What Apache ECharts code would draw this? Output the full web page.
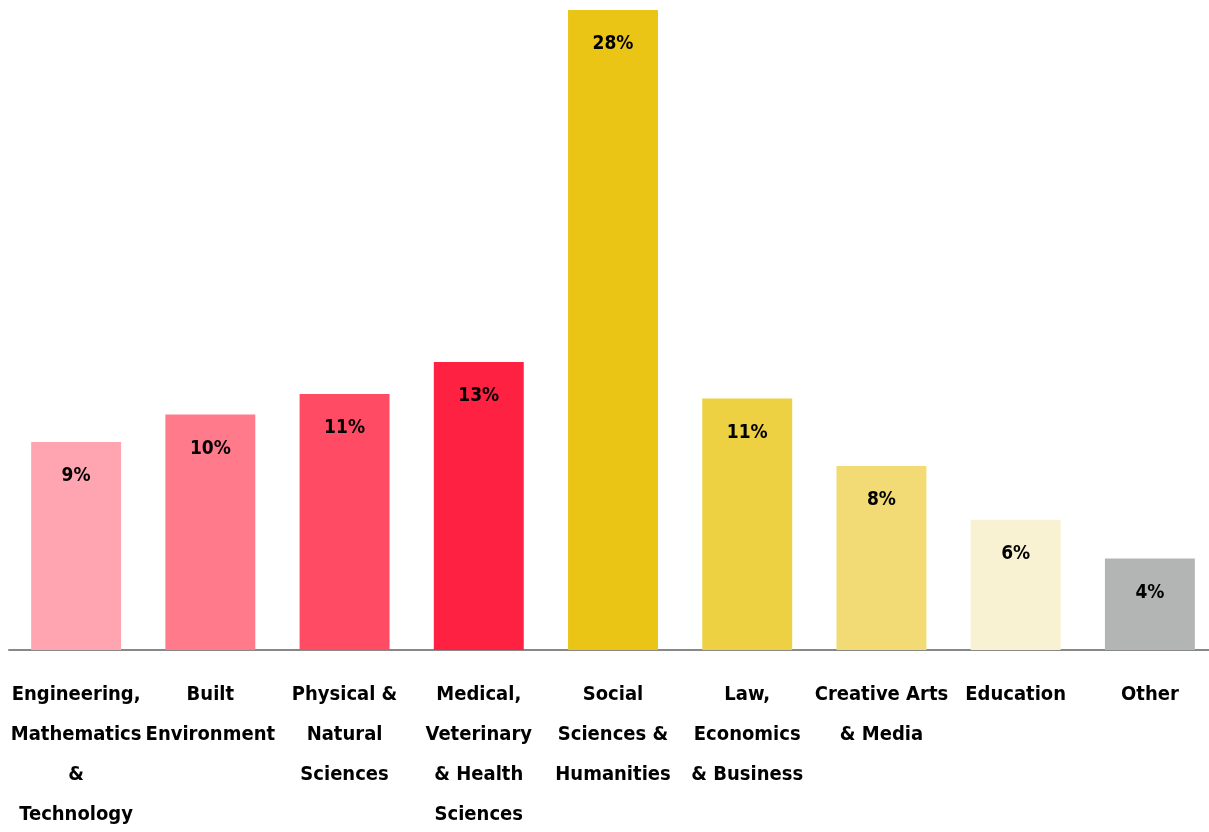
<!DOCTYPE html>
<html>
<head>
<meta charset="utf-8">
<script src="https://cdn.jsdelivr.net/npm/echarts@6/dist/echarts.min.js"></script>
<style>
html,body{margin:0;padding:0;background:#fff;}
#chart{width:1209px;height:832px;}
</style>
</head>
<body>
<div id="chart"></div>
<script>
const categories = [
  "Engineering,\nMathematics\n&\nTechnology",
  "Built\nEnvironment",
  "Physical &\nNatural\nSciences",
  "Medical,\nVeterinary\n& Health\nSciences",
  "Social\nSciences &\nHumanities",
  "Law,\nEconomics\n& Business",
  "Creative Arts\n& Media",
  "Education",
  "Other"
];
const values = [9.1, 10.3, 11.2, 12.6, 28.0, 11.0, 8.05, 5.7, 4.0];
const colors = ["#FFA5B1", "#FF7A8B", "#FF4B64", "#FF2142", "#EAC516", "#EED043", "#F2DB74", "#F9F2D2", "#B3B5B5"];

const FONT = "'DejaVu Sans Condensed', 'Liberation Sans Narrow', sans-serif";
const chart = echarts.init(document.getElementById('chart'));
chart.setOption({
  animation: false,
  grid: { left: 9, width: 1208, top: 10, bottom: 182, containLabel: false, outerBoundsMode: 'none' },
  xAxis: {
    type: 'category',
    data: categories,
    axisTick: { show: false },
    axisLine: { show: true, lineStyle: { color: '#888888', width: 2 } },
    axisLabel: {
      interval: 0,
      margin: 25,
      color: '#000',
      fontFamily: FONT,
      fontWeight: 'bold',
      fontSize: 20,
      lineHeight: 40,
      align: 'center'
    }
  },
  yAxis: {
    type: 'value',
    min: 0,
    max: 28,
    show: false,
    splitLine: { show: false }
  },
  series: [{
    type: 'bar',
    data: values.map((v, i) => ({ value: v, itemStyle: { color: colors[i] } })),
    barCategoryGap: '33%',
    label: {
      show: true,
      position: 'insideTop',
      distance: 25,
      color: '#000',
      fontFamily: FONT,
      fontWeight: 'bold',
      fontSize: 19,
      formatter: p => Math.round(p.value) + '%'
    }
  }]
});
</script>
</body>
</html>
